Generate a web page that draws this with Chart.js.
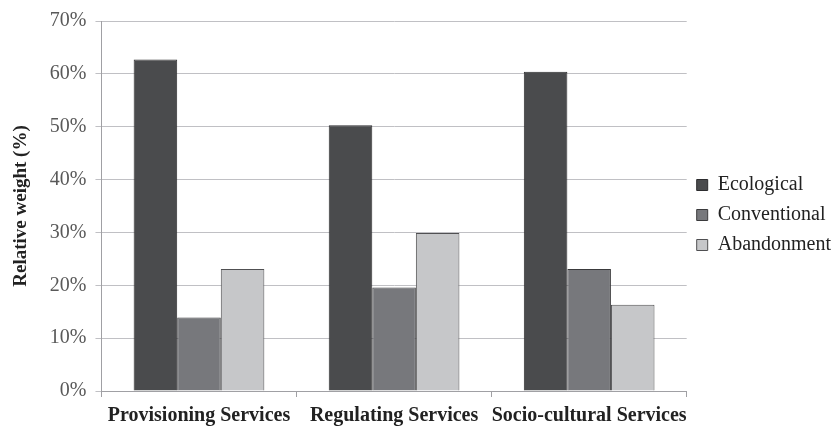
<!DOCTYPE html>
<html>
<head>
<meta charset="utf-8">
<script src="https://cdn.jsdelivr.net/npm/chart.js@4"></script>
<style>
  body { margin: 0; background: #fff; }
  #wrap { width: 834px; height: 426px; }
</style>
</head>
<body>
<div id="wrap"><canvas id="weightChart"></canvas></div>
<script>
const categories = ["Provisioning Services", "Regulating Services", "Socio-cultural Services"];
const ecological = [62.7, 50.3, 60.4];
const conventional = [13.9, 19.6, 23.1];
const abandonment = [23.1, 29.9, 16.3];
const yTicks = [0, 10, 20, 30, 40, 50, 60, 70];

const serif = "'Liberation Serif', 'Times New Roman', serif";

// legend sits a little tighter against the right edge than chart.js leaves it
const legendTighten = {
    id: "legendTighten",
    afterInit(chart) {
        const legend = chart.legend;
        const fit = legend.fit;
        legend.fit = function () {
            fit.call(this);
            this.width -= 7;
        };
    }
};

new Chart(document.getElementById("weightChart").getContext("2d"), {
    type: "bar",
    data: {
        labels: categories,
        datasets: [
            { label: "Ecological", data: ecological, backgroundColor: "#4a4b4d", borderColor: "#2c2c2e", borderWidth: 1 },
            { label: "Conventional", data: conventional, backgroundColor: "#77787c", borderColor: "#3a3a3c", borderWidth: 1 },
            { label: "Abandonment", data: abandonment, backgroundColor: "#c6c7c9", borderColor: "#505052", borderWidth: 1 }
        ]
    },
    options: {
        responsive: true,
        maintainAspectRatio: false,
        animation: false,
        layout: { padding: { top: 4, right: 0, bottom: 0, left: 10 } },
        datasets: { bar: { categoryPercentage: 0.67, barPercentage: 1 } },
        plugins: {
            legend: {
                position: "right",
                labels: {
                    font: { family: serif, size: 20 },
                    color: "#222",
                    boxWidth: 11,
                    boxHeight: 11,
                    padding: 10
                }
            },
            tooltip: { enabled: false }
        },
        scales: {
            x: {
                afterFit: axis => { axis.height -= 9; },
                grid: { offset: true, drawOnChartArea: false, color: "#a0a0a4", tickLength: 6 },
                border: { color: "#a0a0a4" },
                ticks: {
                    font: { family: serif, size: 20, weight: "bold", lineHeight: 1.1 },
                    color: "#222",
                    padding: 8,
                    maxRotation: 0,
                    minRotation: 0,
                    autoSkip: false
                }
            },
            y: {
                min: 0,
                max: 70,
                afterBuildTicks: axis => { axis.ticks = yTicks.map(v => ({ value: v })); },
                grid: { color: "#c0c0c4", tickLength: 6 },
                border: { color: "#a0a0a4" },
                ticks: {
                    font: { family: serif, size: 20 },
                    color: "#595959",
                    padding: 9,
                    callback: v => v + "%"
                },
                title: {
                    display: true,
                    text: "Relative weight (%)",
                    font: { family: serif, size: 19, weight: "bold" },
                    color: "#222",
                    padding: { top: 0, bottom: 8 }
                }
            }
        }
    },
    plugins: [legendTighten]
});
</script>
</body>
</html>
